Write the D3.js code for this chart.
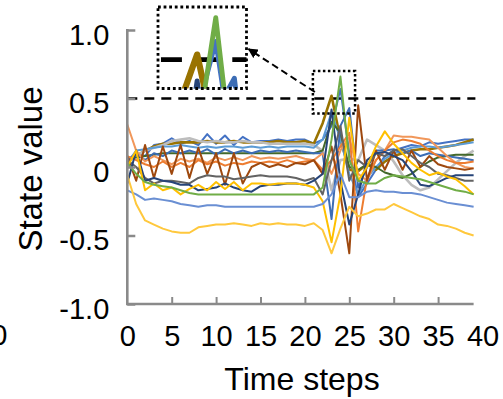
<!DOCTYPE html>
<html><head><meta charset="utf-8">
<script src="https://cdn.jsdelivr.net/npm/d3@7"></script>
<style>
html,body{margin:0;padding:0;background:#fff;}
text{font-family:"Liberation Sans",Arial,Helvetica,sans-serif;fill:#000;}
</style></head>
<body><svg id="c" width="503" height="399"></svg>
<script>
// ---- data ----
const timeSteps = d3.range(0, 40);
const xTickLabels = [0, 5, 10, 15, 20, 25, 30, 35, 40];
const yTickLabels = [-1.0, -0.5, 0, 0.5, 1.0];
const threshold = 0.5;
const zoomT = [20.9, 25.65];
const zoomV = [0.39, 0.70];

const seriesNames = ["blueTop","olive","lightGray","lightBlue","darkGreen","darkBlue2","lightOrange","orange","brown","darkGray","darkBlue","yellow","green","blueLow","yellowLow"];
const seriesColors = ["#4472C4","#997300","#BDBDBD","#5B9BD5","#43682B","#3C6DB5","#F1975A","#ED7D31","#9E480E","#636363","#264478","#FFC000","#70AD47","#6A8FD3","#FFC83D"];

const blueTop = [0.05,0.10,0.08,0.16,0.17,0.21,0.17,0.19,0.16,0.24,0.17,0.23,0.16,0.22,0.18,0.19,0.19,0.20,0.19,0.20,0.20,0.17,0.20,0.30,0.57,0.10,-0.22,-0.12,-0.02,0.08,0.12,0.14,0.16,0.15,0.18,0.17,0.18,0.19,0.20,0.20];
const olive = [0.05,0.08,0.12,0.15,0.17,0.17,0.18,0.18,0.18,0.19,0.18,0.18,0.19,0.18,0.18,0.18,0.18,0.19,0.18,0.18,0.19,0.17,0.32,0.52,0.20,-0.02,-0.03,0.02,-0.02,0.04,0.08,0.10,0.12,0.13,0.13,0.14,0.15,0.16,0.18,0.20];
const lightGray = [0.05,0.08,0.12,0.14,0.16,0.19,0.20,0.21,0.19,0.18,0.19,0.18,0.18,0.19,0.18,0.18,0.17,0.17,0.17,0.17,0.17,0.16,0.12,-0.17,0.05,0.06,0.05,0.20,0.16,0.12,0.04,-0.06,-0.13,-0.17,-0.15,-0.09,-0.03,0.03,0.08,0.12];
const lightBlue = [0.03,0.12,0.13,0.14,0.15,0.15,0.16,0.15,0.14,0.15,0.14,0.15,0.15,0.14,0.15,0.14,0.15,0.14,0.15,0.15,0.15,0.14,0.20,0.40,0.20,-0.05,-0.20,-0.08,0.0,0.06,0.10,0.12,0.14,0.15,0.15,0.14,0.15,0.16,0.17,0.18];
const darkGreen = [0.06,0.07,0.08,0.09,0.10,0.10,0.10,0.10,0.10,0.10,0.10,0.10,0.10,0.10,0.10,0.10,0.10,0.10,0.10,0.10,0.10,0.10,0.12,0.33,0.25,0.00,-0.02,0.02,0.0,-0.04,-0.06,-0.08,-0.05,0.0,0.04,0.07,0.08,0.09,0.09,0.09];
const darkBlue2 = [0.04,0.10,0.05,0.10,0.08,0.12,0.10,0.12,0.10,0.13,0.09,0.13,0.10,0.12,0.10,0.12,0.11,0.12,0.11,0.12,0.11,0.10,0.10,-0.38,0.30,0.43,-0.15,0.0,0.12,0.12,0.13,0.10,0.12,0.08,0.10,0.09,0.08,0.07,0.06,0.05];
const lightOrange = [0.31,0.12,0.04,0.08,0.05,0.02,0.06,0.04,0.06,0.03,0.07,0.05,0.07,0.05,0.08,0.06,0.07,0.06,0.07,0.08,0.06,0.05,0.10,-0.05,0.12,0.22,-0.05,-0.10,0.05,0.12,0.23,0.22,0.22,0.21,0.20,0.14,0.08,0.03,0.00,-0.01];
const orange = [0.08,0.05,0.02,0.0,0.04,0.0,0.03,0.0,0.05,0.02,0.04,0.01,0.03,0.02,0.04,0.03,0.04,0.03,0.05,0.03,0.04,0.05,-0.02,0.05,0.15,0.25,-0.47,-0.08,0.05,0.12,0.18,0.20,0.19,0.17,0.12,0.08,0.05,0.03,0.03,0.04];
const brown = [0.08,-0.10,0.16,-0.08,0.15,-0.05,0.16,-0.08,0.14,-0.05,0.10,-0.13,0.10,-0.12,0.0,0.03,0.0,0.02,0.0,0.03,0.02,0.05,-0.05,0.15,-0.20,-0.63,0.45,-0.10,0.12,-0.02,0.12,-0.02,0.12,0.0,0.08,0.02,0.0,-0.01,-0.02,-0.01];
const darkGray = [0.05,0.0,-0.08,-0.12,-0.10,-0.10,-0.11,-0.12,-0.08,-0.06,-0.07,-0.07,-0.09,-0.08,-0.07,-0.06,-0.07,-0.07,-0.07,-0.08,-0.10,-0.08,-0.20,0.05,0.30,-0.10,0.05,0.0,0.10,0.08,0.12,0.13,0.08,0.03,0.0,-0.05,-0.06,-0.08,-0.10,-0.10];
const darkBlue = [-0.12,0.12,-0.10,-0.08,-0.10,-0.11,-0.13,-0.13,-0.17,-0.16,-0.15,-0.12,-0.15,-0.17,-0.18,-0.14,-0.13,-0.13,-0.12,-0.12,-0.13,-0.10,-0.05,0.42,-0.10,-0.42,-0.20,0.05,0.10,0.11,0.08,0.05,-0.03,-0.13,-0.14,-0.11,-0.08,-0.06,-0.06,-0.06];
const yellow = [0.00,0.12,-0.17,-0.12,-0.17,-0.15,-0.20,-0.16,-0.13,-0.17,-0.11,-0.16,-0.11,-0.17,-0.12,-0.12,-0.13,-0.12,-0.12,-0.12,-0.13,-0.15,-0.25,-0.55,-0.20,0.36,-0.10,0.00,0.15,0.26,0.17,0.10,0.03,-0.02,-0.06,-0.04,-0.07,-0.09,-0.14,-0.20];
const green = [0.03,-0.05,-0.11,-0.13,-0.14,-0.15,-0.17,-0.19,-0.20,-0.20,-0.20,-0.20,-0.20,-0.20,-0.20,-0.20,-0.20,-0.20,-0.20,-0.20,-0.20,-0.20,-0.15,0.20,0.66,0.05,-0.10,-0.12,-0.12,-0.08,-0.06,-0.07,-0.08,-0.09,-0.11,-0.13,-0.15,-0.17,-0.18,-0.20];
const blueLow = [-0.17,-0.20,-0.24,-0.23,-0.24,-0.25,-0.27,-0.28,-0.29,-0.28,-0.28,-0.29,-0.29,-0.29,-0.29,-0.29,-0.29,-0.29,-0.29,-0.29,-0.29,-0.29,-0.27,-0.20,-0.05,-0.22,-0.22,-0.18,-0.17,-0.18,-0.18,-0.19,-0.19,-0.20,-0.22,-0.24,-0.26,-0.27,-0.28,-0.29];
const yellowLow = [-0.06,-0.27,-0.39,-0.42,-0.45,-0.47,-0.48,-0.48,-0.44,-0.43,-0.42,-0.42,-0.41,-0.42,-0.43,-0.41,-0.42,-0.41,-0.42,-0.42,-0.43,-0.41,-0.46,-0.63,-0.45,-0.29,-0.36,-0.34,-0.31,-0.31,-0.27,-0.30,-0.33,-0.36,-0.38,-0.42,-0.43,-0.45,-0.48,-0.50];

const seriesValues = [blueTop,olive,lightGray,lightBlue,darkGreen,darkBlue2,lightOrange,orange,brown,darkGray,darkBlue,yellow,green,blueLow,yellowLow];

// ---- chart ----
const svg = d3.select("#c");
const x = d3.scaleLinear().domain([0, 40]).range([127.3, 482.5]);
const y = d3.scaleLinear().domain([-1, 1]).range([304, 30]);
const axisColor = "#8a8a8a";
const FONT = "29px";

const line = d3.line().x((d, i) => x(timeSteps[i])).y(d => y(d));

function drawContent(g, sw) {
  g.append("line")
    .attr("x1", x(0)).attr("x2", x(39.2))
    .attr("y1", y(threshold)).attr("y2", y(threshold))
    .attr("stroke", "#000").attr("stroke-width", 2.4)
    .attr("stroke-dasharray", "10,7");
  seriesValues.forEach((vals, k) => {
    g.append("path").datum(vals)
      .attr("d", line)
      .attr("fill", "none")
      .attr("stroke", seriesColors[k])
      .attr("stroke-width", (seriesNames[k] === "lightGray" || seriesNames[k] === "olive") ? sw * 1.3 : sw)
      .attr("stroke-linejoin", "round");
  });
}

drawContent(svg.append("g"), 2);

// axes
const fmtY = d => d === 0 ? "0" : d.toFixed(1);
const yAxis = d3.axisLeft(y).tickValues(yTickLabels).tickFormat(fmtY)
  .tickSizeInner(-8).tickSizeOuter(0).tickPadding(18);
const gy = svg.append("g").attr("transform", `translate(${x(0)},0)`).call(yAxis);
gy.select(".domain").remove();
gy.selectAll(".tick line").attr("stroke", axisColor).attr("stroke-width", 2.5);
gy.selectAll(".tick text").attr("font-size", FONT).attr("y", 5)
  .style("font-family", '"Liberation Sans",Arial,sans-serif');

const xAxis = d3.axisBottom(x).tickValues(xTickLabels).tickFormat(d => String(d))
  .tickSizeInner(-7).tickSizeOuter(0).tickPadding(21);
const gx = svg.append("g").attr("transform", `translate(0,${y(-1)})`).call(xAxis);
gx.select(".domain").remove();
gx.selectAll(".tick line").attr("stroke", axisColor).attr("stroke-width", 2)
  .attr("display", d => (d === 0 || d === 40) ? "none" : null);
gx.selectAll(".tick text").attr("font-size", FONT)
  .style("font-family", '"Liberation Sans",Arial,sans-serif');

svg.append("line").attr("x1", x(0)).attr("x2", x(0)).attr("y1", y(1) - 1).attr("y2", y(-1) + 1.2)
  .attr("stroke", axisColor).attr("stroke-width", 2.6);
svg.append("line").attr("x1", x(0)).attr("x2", x(39)).attr("y1", y(-1)).attr("y2", y(-1))
  .attr("stroke", axisColor).attr("stroke-width", 2.6);

// axis titles
svg.append("text").attr("transform", "translate(42,169) rotate(-90)")
  .attr("text-anchor", "middle").attr("font-size", "33px").text("State value");
svg.append("text").attr("x", 302).attr("y", 390)
  .attr("text-anchor", "middle").attr("font-size", "32px").text("Time steps");
// label of the neighbouring panel, cut by the edge as in the reference
svg.append("text").attr("x", 7.5).attr("y", 345).attr("text-anchor", "end")
  .attr("font-size", FONT).text("40");

// zoom box in main plot
const bx0 = x(zoomT[0]), bx1 = x(zoomT[1]), by0 = y(zoomV[1]), by1 = y(zoomV[0]);
svg.append("rect").attr("x", bx0).attr("y", by0).attr("width", bx1 - bx0).attr("height", by1 - by0)
  .attr("fill", "none").attr("stroke", "#000").attr("stroke-width", 2.5).attr("stroke-dasharray", "2.5,2.5");

// inset
const ix0 = 158, iy0 = 7, ix1 = 246.5, iy1 = 88.5;
const sx = (ix1 - ix0) / (bx1 - bx0), sy = (iy1 - iy0) / (by1 - by0);
svg.append("clipPath").attr("id", "zc").append("rect")
  .attr("x", bx0).attr("y", by0).attr("width", bx1 - bx0).attr("height", by1 - by0);
svg.append("rect").attr("x", ix0).attr("y", iy0).attr("width", ix1 - ix0).attr("height", iy1 - iy0).attr("fill", "#fff");
const inset = svg.append("g")
  .attr("transform", `translate(${ix0},${iy0}) scale(${sx},${sy}) translate(${-bx0},${-by0})`)
  .append("g").attr("clip-path", "url(#zc)");
drawContent(inset, 2.3);
svg.append("rect").attr("x", ix0).attr("y", iy0).attr("width", ix1 - ix0).attr("height", iy1 - iy0)
  .attr("fill", "none").attr("stroke", "#000").attr("stroke-width", 2.8).attr("stroke-dasharray", "2.8,2.8");

// arrow
svg.append("defs").append("marker").attr("id", "ah")
  .attr("viewBox", "0 0 10 10").attr("refX", 9).attr("refY", 5)
  .attr("markerWidth", 5).attr("markerHeight", 5).attr("orient", "auto")
  .append("path").attr("d", "M0,0 L10,5 L0,10 Z").attr("fill", "#000");
svg.append("line").attr("x1", bx0 + 2).attr("y1", 92).attr("x2", ix1 + 2).attr("y2", 49)
  .attr("stroke", "#000").attr("stroke-width", 2).attr("stroke-dasharray", "7,4")
  .attr("marker-end", "url(#ah)");
</script></body></html>
